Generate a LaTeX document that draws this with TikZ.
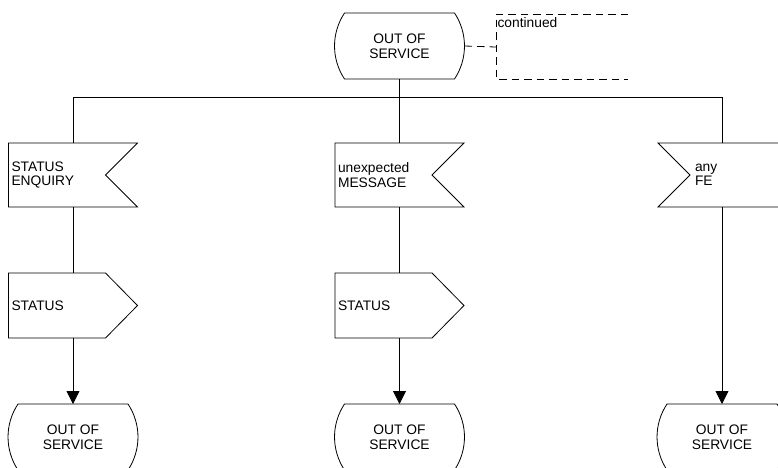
\documentclass[tikz,border=0pt]{standalone}
\usepackage{fontspec}
\setmainfont{Liberation Sans}
\usetikzlibrary{arrows.meta}
\begin{document}
\begin{tikzpicture}[x=1pt,y=-1pt,
  box/.style={draw=none, inner sep=0pt, outer sep=0pt, font=\fontsize{13.8}{14.5}\selectfont},
  statebox/.style={box, minimum width=130pt, minimum height=66pt, align=center},
  sigbox/.style={box, minimum width=129pt, minimum height=64pt, text width=123pt, align=left},
  sigboxr/.style={box, minimum width=128pt, minimum height=64pt, text width=54pt, align=left},
  outbox/.style={box, minimum width=129pt, minimum height=65pt, text width=123pt, align=left},
  outl/.style={line width=0.8pt, line join=miter},
  conn/.style={line width=0.8pt},
  arr/.style={conn, -{Triangle[length=13pt,width=13pt]}},
  dashline/.style={dash pattern=on 7.5pt off 5pt, line width=0.8pt}]
\clip (0,0) rectangle (778,467);
% nodes
\node[statebox] (s0) at (399.5,46) {OUT OF\\SERVICE};
\node[sigbox] (i1) at (73,175) {STATUS\\ENQUIRY};
\node[sigbox] (i2) at (399.5,175) {unexpected\\MESSAGE};
\node[sigboxr] (i3) at (722,175) {any\\FE};
\node[outbox] (o1) at (73,305.5) {STATUS};
\node[outbox] (o2) at (399.5,305.5) {STATUS};
\node[statebox] (s1) at (73,437) {OUT OF\\SERVICE};
\node[statebox] (s2) at (399.5,437) {OUT OF\\SERVICE};
\node[statebox] (s3) at (722,437) {OUT OF\\SERVICE};
\node[box, anchor=north west, inner sep=1.5pt] (cont) at (496,16) {continued};
\coordinate (j1) at (73,97);
\coordinate (j2) at (399.5,97);
\coordinate (j3) at (722,97);
\coordinate (d1) at (496,47);
\coordinate (d0) at (628,14);
\coordinate (d2) at (496,14);
\coordinate (d3) at (496,79);
\coordinate (d4) at (628,79);
% state outlines
\foreach \n in {s0,s1,s2,s3}{
  \draw[outl] ([xshift=10pt]\n.north west) -- ([xshift=-10pt]\n.north east)
    .. controls ([xshift=3.3pt,yshift=13pt]\n.east) and ([xshift=3.3pt,yshift=-13pt]\n.east) .. ([xshift=-10pt]\n.south east)
    -- ([xshift=10pt]\n.south west)
    .. controls ([xshift=-3.3pt,yshift=-13pt]\n.west) and ([xshift=-3.3pt,yshift=13pt]\n.west) .. ([xshift=10pt]\n.north west) -- cycle;
}
% input signals
\foreach \n in {i1,i2}{
  \draw[outl] (\n.north west) -- (\n.north east) -- ([xshift=-32pt]\n.east) -- (\n.south east) -- (\n.south west) -- cycle;
}
\draw[outl] (i3.north west) -- (i3.north east) -- (i3.south east) -- (i3.south west) -- ([xshift=32pt]i3.west) -- cycle;
% output signals
\foreach \n in {o1,o2}{
  \draw[outl] (\n.north west) -- ([xshift=-32pt]\n.north east) -- (\n.east) -- ([xshift=-32pt]\n.south east) -- (\n.south west) -- cycle;
}
% connectors
\draw[conn] (s0.south) -- (j2);
\draw[conn] (j1) -- (j3);
\draw[conn] (j1) -- (i1.north);
\draw[conn] (j2) -- (i2.north);
\draw[conn] (j3) -- (i3.north);
\draw[conn] (i1.south) -- (o1.north);
\draw[conn] (i2.south) -- (o2.north);
\draw[arr] (o1.south) -- (s1.north);
\draw[arr] (o2.south) -- (s2.north);
\draw[arr] (i3.south) -- (s3.north);
% continuation
\draw[dashline] (s0.east) -- (d1);
\draw[dashline] (d0) -- (d2) -- (d3) -- (d4);
\end{tikzpicture}
\end{document}
